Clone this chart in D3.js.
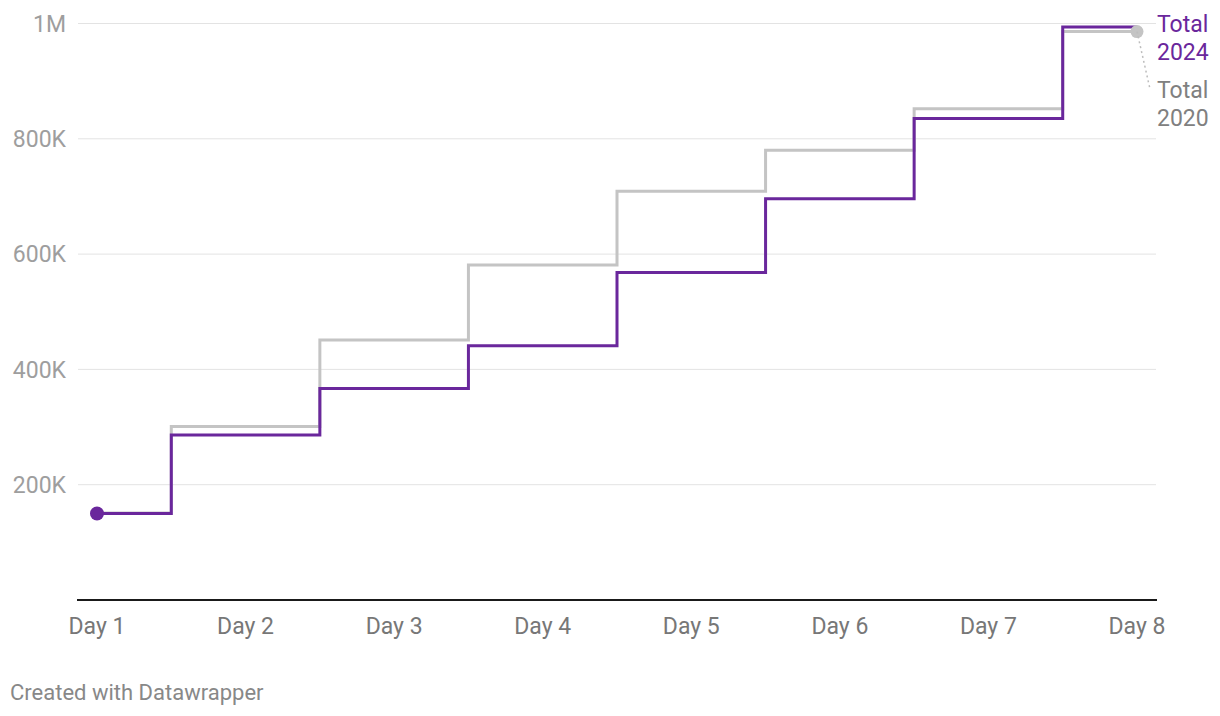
<!DOCTYPE html>
<html>
<head>
<meta charset="utf-8">
<script src="https://cdn.jsdelivr.net/npm/d3@7"></script>
<style>
  html, body { margin: 0; padding: 0; background: #fff; }
  svg { display: block; font-family: Roboto, "Noto Sans", sans-serif; }
</style>
</head>
<body>
<svg id="chart" width="1220" height="716"></svg>
<script>
// chart data (values in thousands)
var days = ["Day 1", "Day 2", "Day 3", "Day 4", "Day 5", "Day 6", "Day 7", "Day 8"];
var total2024 = [150, 286, 367, 441, 568, 696, 835, 994];
var total2020 = [151, 301, 451, 581, 709, 780, 852, 986];
var yTicks = [200, 400, 600, 800, 1000];
var yTickLabels = ["200K", "400K", "600K", "800K", "1M"];

var COLOR_2024 = "#6a279c";
var COLOR_2020 = "#c4c4c4";

var svg = d3.select("#chart");

var x = d3.scalePoint().domain(days).range([97, 1137]);
var y = d3.scaleLinear().domain([0, 1000]).range([600, 23.5]);

// gridlines
svg.append("g").selectAll("line").data(yTicks).enter().append("line")
  .attr("x1", 78).attr("x2", 1156)
  .attr("y1", function(d) { return y(d); })
  .attr("y2", function(d) { return y(d); })
  .attr("stroke", "#e3e3e3")
  .attr("stroke-width", 1);

// y tick labels
svg.append("g").selectAll("text").data(yTicks).enter().append("text")
  .attr("x", 66)
  .attr("y", function(d) { return y(d); })
  .attr("dy", "0.36em")
  .attr("text-anchor", "end")
  .attr("font-size", "23px")
  .attr("fill", "#9e9e9e")
  .text(function(d, i) { return yTickLabels[i]; });

// x axis baseline
svg.append("line")
  .attr("x1", 77).attr("x2", 1157)
  .attr("y1", y(0)).attr("y2", y(0))
  .attr("stroke", "#1a1a1a")
  .attr("stroke-width", 2);

// x labels
svg.append("g").selectAll("text").data(days).enter().append("text")
  .attr("x", function(d) { return x(d); })
  .attr("y", 634)
  .attr("text-anchor", "middle")
  .attr("font-size", "23px")
  .attr("fill", "#777")
  .text(function(d) { return d; });

var line = d3.line()
  .x(function(d, i) { return x(days[i]); })
  .y(function(d) { return y(d); })
  .curve(d3.curveStep);

svg.append("path")
  .datum(total2020)
  .attr("d", line)
  .attr("fill", "none")
  .attr("stroke", COLOR_2020)
  .attr("stroke-width", 3);

svg.append("path")
  .datum(total2024)
  .attr("d", line)
  .attr("fill", "none")
  .attr("stroke", COLOR_2024)
  .attr("stroke-width", 3);

// end dot for 2020, start dot for 2024
var last = days.length - 1;
svg.append("circle")
  .attr("cx", x(days[last])).attr("cy", y(total2020[last]))
  .attr("r", 6.5).attr("fill", COLOR_2020);
svg.append("circle")
  .attr("cx", x(days[0])).attr("cy", y(total2024[0]))
  .attr("r", 7).attr("fill", COLOR_2024);

// dotted connector to the 2020 label
svg.append("line")
  .attr("x1", x(days[last])).attr("y1", y(total2020[last]))
  .attr("x2", 1150).attr("y2", 89)
  .attr("stroke", "#bdbdbd")
  .attr("stroke-width", 1.5)
  .attr("stroke-dasharray", "2,3");

function addLabel(lines, top, color) {
  var t = svg.append("text")
    .attr("x", 1157)
    .attr("y", top)
    .attr("font-size", "23px")
    .attr("fill", color);
  lines.forEach(function(s, i) {
    t.append("tspan").attr("x", 1157).attr("dy", i === 0 ? 0 : 28).text(s);
  });
}
addLabel(["Total", "2024"], 32, COLOR_2024);
addLabel(["Total", "2020"], 98, "#808080");

// footer
svg.append("text")
  .attr("x", 10)
  .attr("y", 700)
  .attr("font-size", "22px")
  .attr("fill", "#888")
  .text("Created with Datawrapper");
</script>
</body>
</html>
